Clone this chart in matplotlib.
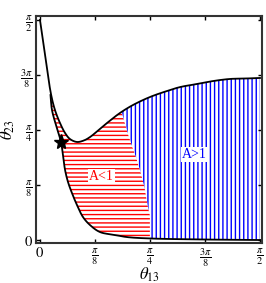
import numpy as np
import matplotlib
matplotlib.use("Agg")
import matplotlib.pyplot as plt
from matplotlib.patches import Polygon

plt.rcParams['font.family'] = ['Liberation Serif', 'DejaVu Serif']
plt.rcParams['mathtext.fontset'] = 'stix'
plt.rcParams['hatch.linewidth'] = 1.0

# upper boundary curve (theta13, theta23), radians
up_x = [0.0, 0.036, 0.0785, 0.107, 0.143, 0.179, 0.214, 0.264, 0.314, 0.357, 0.428,
        0.478, 0.571, 0.664, 0.785, 0.907, 1.000, 1.121, 1.235, 1.357, 1.464, 1.571]
up_y = [1.571, 1.321, 1.042, 0.928, 0.835, 0.764, 0.721, 0.700, 0.711, 0.735, 0.793,
        0.835, 0.907, 0.964, 1.021, 1.064, 1.092, 1.114, 1.135, 1.150, 1.153, 1.157]

# lower boundary curve
lo_x = [0.075, 0.0857, 0.114, 0.150, 0.164, 0.179, 0.200, 0.228, 0.264, 0.307,
        0.357, 0.428, 0.536, 0.621, 0.785, 1.142, 1.571]
lo_y = [1.035, 0.928, 0.821, 0.700, 0.607, 0.500, 0.414, 0.336, 0.250, 0.164,
        0.107, 0.057, 0.036, 0.021, 0.011, 0.004, 0.0]

# line separating A<1 and A>1
sep_x = [0.578, 0.643, 0.680, 0.714, 0.750, 0.771, 0.785, 0.785]
sep_y = [0.930, 0.714, 0.607, 0.500, 0.357, 0.236, 0.178, 0.0]

best_fit = (0.150, 0.700)

ticks = [0, np.pi/8, np.pi/4, 3*np.pi/8, np.pi/2]
tick_labels = [r'$0$', r'$\frac{\pi}{8}$', r'$\frac{\pi}{4}$', r'$\frac{3\pi}{8}$', r'$\frac{\pi}{2}$']


def smooth(xs, ys, n=30):
    # centripetal catmull-rom through the read points
    p = np.column_stack([xs, ys])
    p = np.vstack([2*p[0] - p[1], p, 2*p[-1] - p[-2]])
    out = []
    for i in range(1, len(p) - 2):
        p0, p1, p2, p3 = p[i-1], p[i], p[i+1], p[i+2]
        t0 = 0.0
        t1 = t0 + np.linalg.norm(p1 - p0)**0.5
        t2 = t1 + np.linalg.norm(p2 - p1)**0.5
        t3 = t2 + np.linalg.norm(p3 - p2)**0.5
        t = np.linspace(t1, t2, n, endpoint=False)[:, None]
        a1 = (t1 - t)/(t1 - t0)*p0 + (t - t0)/(t1 - t0)*p1
        a2 = (t2 - t)/(t2 - t1)*p1 + (t - t1)/(t2 - t1)*p2
        a3 = (t3 - t)/(t3 - t2)*p2 + (t - t2)/(t3 - t2)*p3
        b1 = (t2 - t)/(t2 - t0)*a1 + (t - t0)/(t2 - t0)*a2
        b2 = (t3 - t)/(t3 - t1)*a2 + (t - t1)/(t3 - t1)*a3
        out.append((t2 - t)/(t2 - t1)*b1 + (t - t1)/(t2 - t1)*b2)
    out.append(p[-2][None, :])
    c = np.vstack(out)
    return c[:, 0], c[:, 1]


fig = plt.figure(figsize=(2.66, 2.83), dpi=100)
ax = fig.add_axes([0.1353, 0.1413, 0.8496, 0.8021])

u = np.pi/8/55
ax.set_xlim(-4*u, np.pi/2 + 2*u)
ax.set_ylim(-3*u, np.pi/2 + 4*u)

ux, uy = smooth(up_x, up_y)
lx, ly = smooth(lo_x, lo_y)
sx, sy = smooth(sep_x[:-1], sep_y[:-1])
sx = np.append(sx, sep_x[-1])
sy = np.append(sy, sep_y[-1])

# region between the curves as one polygon
region = np.vstack([np.column_stack([lx, ly]),
                    np.column_stack([ux[::-1], uy[::-1]])])
region = region[region[:, 0] >= lx[0] - 1e-9]

left_clip = Polygon([(-1, -1), (-1, 3), (sx[0], 3)] +
                    list(zip(sx, sy)) + [(sx[-1], -1)],
                    closed=True, transform=ax.transData, visible=False)
right_clip = Polygon([(sx[0], 3), (3, 3), (3, -1), (sx[-1], -1)] +
                     list(zip(sx[::-1], sy[::-1])),
                     closed=True, transform=ax.transData, visible=False)
ax.add_patch(left_clip)
ax.add_patch(right_clip)

red = Polygon(region, closed=True, facecolor='white', edgecolor='#ff0000',
              hatch='----', linewidth=0)
ax.add_patch(red)
red.set_clip_path(left_clip)
blue = Polygon(region, closed=True, facecolor='white', edgecolor='#0000ff',
               hatch='||||', linewidth=0)
ax.add_patch(blue)
blue.set_clip_path(right_clip)

ax.plot(ux, uy, color='black', lw=1.3)
ax.plot(lx, ly, color='black', lw=1.3)
ax.plot(*best_fit, marker='*', color='black', ms=11)

ax.text(0.44, 0.455, 'A<1', color='#ff0000', fontsize=10, ha='center', va='center',
        bbox=dict(facecolor='white', edgecolor='none', pad=0.5))
ax.text(1.10, 0.61, 'A>1', color='#0000ff', fontsize=10, ha='center', va='center',
        bbox=dict(facecolor='white', edgecolor='none', pad=0.5))

ax.set_xticks(ticks)
ax.set_xticklabels(tick_labels, fontsize=10.5)
ax.set_yticks(ticks)
ax.set_yticklabels(tick_labels, fontsize=10.5)
ax.tick_params(direction='in', length=3, width=1, top=True, right=True, pad=2.5)
for s in ax.spines.values():
    s.set_linewidth(1.5)
    s.set_color('#333333')

ax.set_xlabel(r'$\theta_{13}$', fontsize=12, va='center')
ax.xaxis.set_label_coords(0.5, -0.14)
ax.set_ylabel(r'$\theta_{23}$', fontsize=12, va='center', ha='center')
ax.yaxis.set_label_coords(-0.125, 0.5)

fig.savefig('out.png', dpi=100)
